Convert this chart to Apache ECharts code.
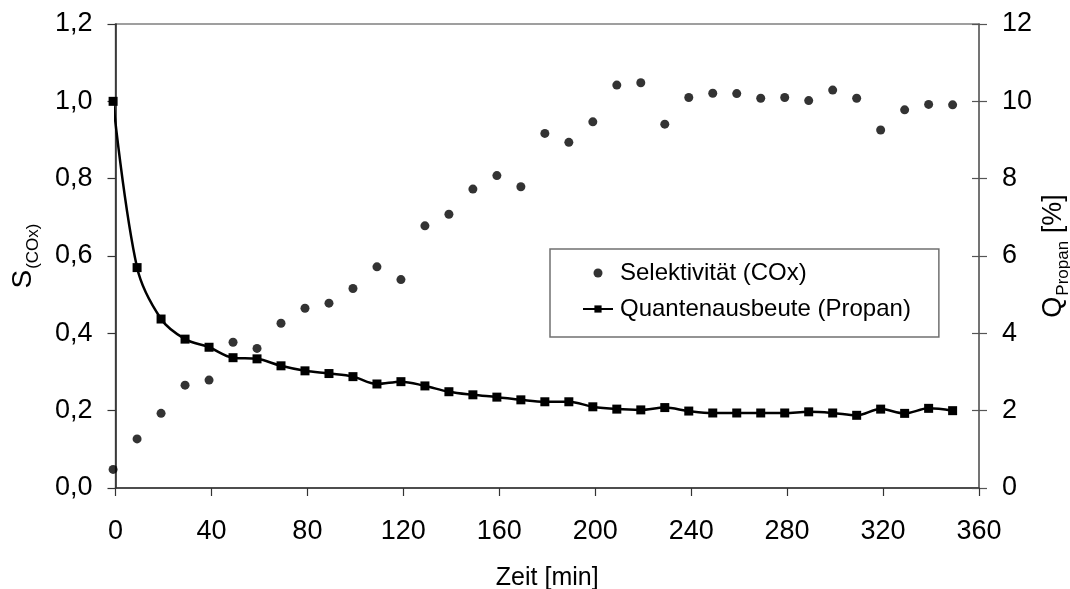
<!DOCTYPE html>
<html>
<head>
<meta charset="utf-8">
<script src="https://cdn.jsdelivr.net/npm/echarts@6/dist/echarts.min.js"></script>
<style>
html,body{margin:0;padding:0;background:#fff;}
#chart{width:1070px;height:589px;}
</style>
</head>
<body>
<div id="chart"></div>
<script>
// Time [min] of each measurement
const zeit = [-1, 9, 19, 29, 39, 49, 59, 69, 79, 89, 99, 109, 119, 129, 139, 149, 159, 169,
  179, 189, 199, 209, 219, 229, 239, 249, 259, 269, 279, 289, 299, 309, 319, 329, 339, 349];
// Selektivität (COx) – left axis
const selektivitaet = [0.048, 0.127, 0.193, 0.266, 0.279, 0.377, 0.361, 0.426, 0.465, 0.478,
  0.516, 0.572, 0.539, 0.678, 0.708, 0.773, 0.808, 0.779, 0.917, 0.894, 0.947, 1.042, 1.048,
  0.941, 1.010, 1.021, 1.020, 1.008, 1.010, 1.002, 1.029, 1.008, 0.926, 0.978, 0.992, 0.991];
// Quantenausbeute (Propan) [%] – right axis
const quantenausbeute = [10.0, 5.70, 4.37, 3.85, 3.64, 3.37, 3.34, 3.16, 3.03, 2.96,
  2.88, 2.69, 2.75, 2.64, 2.49, 2.41, 2.35, 2.28, 2.23, 2.23, 2.10, 2.04, 2.02, 2.08,
  1.99, 1.94, 1.94, 1.94, 1.94, 1.97, 1.94, 1.88, 2.04, 1.93, 2.06, 2.00];
const seriesNames = ['Selektivität (COx)', 'Quantenausbeute (Propan)'];

const FONT = '"Liberation Sans", Arial, sans-serif';
const chart = echarts.init(document.getElementById('chart'));

const pairs = (xs, ys) => xs.map((x, i) => [x, ys[i]]);

chart.setOption({
  animation: false,
  backgroundColor: '#fff',
  textStyle: { fontFamily: FONT, color: '#000' },
  grid: {
    left: 115.5, right: 91, top: 24, bottom: 101,
    outerBoundsMode: 'none', containLabel: false,
    show: true, borderColor: '#808080', borderWidth: 1.5, backgroundColor: 'transparent'
  },
  legend: {
    orient: 'vertical',
    left: 550, top: 249,
    padding: [12, 28, 16, 32],
    itemGap: 12,
    itemWidth: 30,
    itemHeight: 9,
    borderColor: '#707070', borderWidth: 1.5,
    backgroundColor: '#fff',
    textStyle: { fontFamily: FONT, fontSize: 24, color: '#000', padding: [0, 0, 0, 2] },
    data: seriesNames
  },
  xAxis: {
    type: 'value', min: 0, max: 360, interval: 40,
    name: 'Zeit [min]', nameLocation: 'middle', nameGap: 78,
    nameTextStyle: { fontFamily: FONT, fontSize: 25, color: '#000' },
    axisLine: { show: true, lineStyle: { color: '#333', width: 1.5 } },
    axisTick: { show: true, inside: false, length: 8, lineStyle: { color: '#333', width: 1.2 } },
    axisLabel: { fontFamily: FONT, fontSize: 27, color: '#000', margin: 30 },
    splitLine: { show: false }
  },
  yAxis: [
    {
      type: 'value', min: 0, max: 1.2, interval: 0.2, position: 'left',
      name: '{a|S}{b|(COx)}', nameLocation: 'middle', nameRotate: 90, nameGap: 74,
      nameTextStyle: {
        rich: {
          a: { fontFamily: FONT, fontSize: 28, color: '#000' },
          b: { fontFamily: FONT, fontSize: 17, color: '#000', padding: [20, 0, 0, 1] }
        }
      },
      axisLine: { show: true, lineStyle: { color: '#222', width: 1.5 } },
      axisTick: { show: true, inside: false, length: 8, lineStyle: { color: '#333', width: 1.2 } },
      axisLabel: {
        fontFamily: FONT, fontSize: 27, color: '#000', margin: 23,
        formatter: v => v.toFixed(1).replace('.', ',')
      },
      splitLine: { show: false }
    },
    {
      type: 'value', min: 0, max: 12, interval: 2, position: 'right',
      name: '{a|Q}{b|Propan}{a| [%]}', nameLocation: 'middle', nameRotate: 90, nameGap: 56,
      nameMoveOverlap: false,
      nameTextStyle: {
        rich: {
          a: { fontFamily: FONT, fontSize: 27, color: '#000' },
          b: { fontFamily: FONT, fontSize: 17, color: '#000', padding: [20, 0, 0, 1] }
        }
      },
      axisLine: { show: true, lineStyle: { color: '#666', width: 1.5 } },
      axisTick: { show: true, inside: false, length: 8, lineStyle: { color: '#555', width: 1.2 } },
      axisLabel: { fontFamily: FONT, fontSize: 27, color: '#000', margin: 23 },
      splitLine: { show: false }
    },
    {
      type: 'value', min: 0, max: 12, interval: 2, position: 'right',
      axisLine: { show: false },
      axisTick: { show: true, inside: true, length: 7, lineStyle: { color: '#555', width: 1.2 } },
      axisLabel: { show: false },
      splitLine: { show: false }
    }
  ],
  series: [
    {
      name: seriesNames[0], type: 'scatter', yAxisIndex: 0,
      symbol: 'circle', symbolSize: 9, clip: false,
      itemStyle: { color: '#000' },
      data: pairs(zeit, selektivitaet)
    },
    {
      name: seriesNames[1], type: 'line', yAxisIndex: 1,
      symbol: 'rect', symbolSize: 9, smooth: 0.35, clip: false,
      lineStyle: { color: '#000', width: 2.5 },
      itemStyle: { color: '#000' },
      data: pairs(zeit, quantenausbeute)
    }
  ]
});
</script>
</body>
</html>
